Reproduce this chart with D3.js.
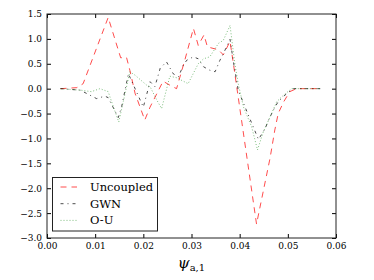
<!DOCTYPE html>
<html><head><meta charset="utf-8">
<script src="https://cdn.jsdelivr.net/npm/d3@7"></script>
<style>body{margin:0;background:#fff}svg{display:block}</style>
</head><body>
<script>
const uncX=[0.0028,0.0062,0.0075,0.0127,0.0153,0.0165,0.0172,0.0183,0.0203,0.0214,0.0228,0.0241,0.0255,0.0269,0.0286,0.0304,0.0314,0.0326,0.0333,0.0356,0.0366,0.0380,0.0387,0.0435,0.0463,0.0473,0.0480,0.0491,0.0504,0.0518,0.0568];
const uncY=[0,0.02,0.10,1.43,0.62,0.63,0.37,-0.10,-0.63,-0.37,-0.10,0.15,0.07,0.0,0.57,1.21,0.87,1.08,0.84,0.78,0.68,0.95,0.50,-2.72,-1.40,-0.83,-0.50,-0.27,-0.06,0.0,0.0];
const gwnX=[0.0028,0.0069,0.0103,0.0120,0.0127,0.0148,0.0155,0.0169,0.0200,0.0214,0.0224,0.0235,0.0248,0.0262,0.0273,0.0283,0.0290,0.0304,0.0314,0.0325,0.0338,0.0349,0.0359,0.0366,0.0380,0.0387,0.0397,0.0418,0.0439,0.0453,0.0460,0.0470,0.0480,0.0494,0.0511,0.0568];
const gwnY=[0,-0.03,-0.20,-0.15,-0.18,-0.58,-0.36,0.30,-0.37,0.14,0.04,0.41,0.54,0.30,0.24,0.47,0.57,0.64,0.60,0.44,0.37,0.34,0.57,0.70,0.99,0.54,-0.03,-0.53,-1.02,-0.80,-0.63,-0.43,-0.26,-0.13,0.0,0.0];
const ouX=[0.0028,0.0070,0.0092,0.0110,0.0127,0.0138,0.0149,0.0162,0.0172,0.0183,0.0207,0.0214,0.0228,0.0238,0.0255,0.0269,0.0293,0.0314,0.0325,0.0338,0.0356,0.0366,0.0380,0.0390,0.0397,0.0408,0.0425,0.0437,0.0449,0.0463,0.0477,0.0491,0.0508,0.0568];
const ouY=[0,-0.03,-0.06,0.0,-0.06,-0.37,-0.67,-0.10,0.34,0.27,0.07,0.04,-0.23,-0.40,0.25,0.22,0.10,0.50,0.60,0.64,0.91,0.97,1.27,0.50,0.10,-0.37,-0.77,-1.23,-0.87,-0.57,-0.26,-0.13,0.0,0.0];
const xTicks=[0,0.01,0.02,0.03,0.04,0.05,0.06];
const yTicks=[1.5,1.0,0.5,0.0,-0.5,-1.0,-1.5,-2.0,-2.5,-3.0];
const seriesNames=["Uncoupled","GWN","O-U"];

const W=374,H=280,L=47,R=336,T=14,B=238;
const svg=d3.select("body").append("svg").attr("width",W).attr("height",H);
const x=d3.scaleLinear().domain([0,0.06]).range([L,R]);
const y=d3.scaleLinear().domain([-3,1.5]).range([B,T]);
const fmtY=d=>(d<0?"\u2212":"")+Math.abs(d).toFixed(1);
const fmtX=d=>d.toFixed(2);
const tf="DejaVu Serif";

const styles=[
 {color:"#ff0000",op:0.7,dash:"6,5"},
 {color:"#000000",op:0.7,dash:"3,4,1,4"},
 {color:"#008000",op:0.5,dash:"1,2"}];
const data=[[uncX,uncY],[gwnX,gwnY],[ouX,ouY]];
const line=d3.line().x(d=>x(d[0])).y(d=>y(d[1]));
const g=svg.append("g");
data.forEach((s,i)=>{
  const pts=s[0].map((v,j)=>[v,s[1][j]]);
  g.append("path").attr("d",line(pts)).attr("fill","none")
   .attr("stroke",styles[i].color).attr("stroke-opacity",styles[i].op)
   .attr("stroke-width",1).attr("stroke-dasharray",styles[i].dash);
});

// axes
const ax=svg.append("g").attr("font-family",tf).attr("font-size",9);
const axB=d3.axisBottom(x).tickValues(xTicks).tickFormat(fmtX).tickSizeInner(-4).tickSizeOuter(0).tickPadding(5);
const axT=d3.axisTop(x).tickValues(xTicks).tickFormat("").tickSizeInner(-4).tickSizeOuter(0);
const axL=d3.axisLeft(y).tickValues(yTicks).tickFormat(fmtY).tickSizeInner(-4).tickSizeOuter(0).tickPadding(5);
const axR=d3.axisRight(y).tickValues(yTicks).tickFormat("").tickSizeInner(-4).tickSizeOuter(0);
[[axB,`translate(0,${B})`],[axT,`translate(0,${T})`],[axL,`translate(${L},0)`],[axR,`translate(${R},0)`]].forEach(([a,t])=>{
  const gg=ax.append("g").attr("transform",t).call(a);
  gg.select(".domain").remove();
  gg.selectAll("line").attr("stroke","#000");
  gg.selectAll("text").attr("font-family",tf).attr("font-size",9).attr("fill","#000");
});
svg.append("rect").attr("x",L).attr("y",T).attr("width",R-L).attr("height",B-T)
  .attr("fill","none").attr("stroke","#222").attr("stroke-width",1);

// x label
const xl=svg.append("text").attr("x",(L+R)/2).attr("y",268).attr("text-anchor","middle")
  .attr("font-family",tf).attr("fill","#000");
xl.append("tspan").attr("font-style","italic").attr("font-size",15).text("\u03c8");
xl.append("tspan").attr("font-size",10).attr("dy",3).text("a,1");

// legend
const lg=svg.append("g");
lg.append("rect").attr("x",52.5).attr("y",177.5).attr("width",105).attr("height",53.5)
  .attr("fill","#fff").attr("stroke","#222").attr("stroke-width",1);
seriesNames.forEach((n,i)=>{
  const yy=187+i*16.7;
  lg.append("line").attr("x1",60.5).attr("x2",77).attr("y1",yy).attr("y2",yy)
    .attr("stroke",styles[i].color).attr("stroke-opacity",styles[i].op)
    .attr("stroke-width",1).attr("stroke-dasharray",styles[i].dash);
  lg.append("text").attr("x",90).attr("y",yy+4).attr("font-family",tf).attr("font-size",11.5)
    .attr("fill","#000").text(n);
});
</script>
</body></html>
